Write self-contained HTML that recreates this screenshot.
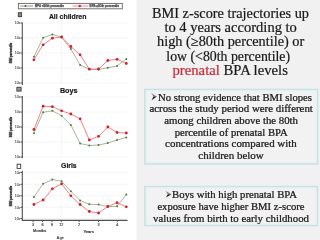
<!DOCTYPE html>
<html><head><meta charset="utf-8">
<style>
html,body{margin:0;padding:0;width:320px;height:240px;overflow:hidden;background:#fff;}
svg{display:block;will-change:transform;font-family:"Liberation Sans",sans-serif;}
.serif text{font-family:"Liberation Serif",serif;}
</style></head><body>
<svg width="320" height="240" viewBox="0 0 320 240">
<rect width="320" height="240" fill="#fff"/>
<g font-family="Liberation Sans, sans-serif">
<rect x="18.4" y="3.4" width="103.9" height="5.4" fill="#fff" stroke="#666" stroke-width="0.9"/>
<line x1="20" y1="6" x2="33" y2="6" stroke="#7a8872" stroke-width="0.9"/><circle cx="25.5" cy="6" r="0.9" fill="#4a5a44"/>
<text x="35" y="7.2" font-size="3.5" textLength="29" lengthAdjust="spacingAndGlyphs" fill="#3a3a3a" stroke="#3a3a3a" stroke-width="0.25">BPA &lt;80th percentile</text>
<line x1="72.5" y1="6" x2="88.5" y2="6" stroke="#f27a7a" stroke-width="0.9"/><circle cx="79.8" cy="6" r="1.2" fill="#c82232"/>
<text x="89.5" y="7.2" font-size="3.5" textLength="29.5" lengthAdjust="spacingAndGlyphs" fill="#3a3a3a" stroke="#3a3a3a" stroke-width="0.25">BPA ≥80th percentile</text>
<line x1="22.3" y1="23" x2="128" y2="23" stroke="#f5f5f5" stroke-width="1"/>
<line x1="22.3" y1="38" x2="128" y2="38" stroke="#f5f5f5" stroke-width="1"/>
<line x1="22.3" y1="53" x2="128" y2="53" stroke="#f5f5f5" stroke-width="1"/>
<line x1="22.3" y1="68" x2="128" y2="68" stroke="#f5f5f5" stroke-width="1"/>
<line x1="22.3" y1="83" x2="128" y2="83" stroke="#f5f5f5" stroke-width="1"/>
<line x1="61.3" y1="22.4" x2="61.3" y2="85" stroke="#f5f5f5" stroke-width="1"/>
<line x1="22.3" y1="22.4" x2="22.3" y2="85" stroke="#505050" stroke-width="1.1"/>
<line x1="20.3" y1="23" x2="22.3" y2="23" stroke="#444" stroke-width="0.9"/>
<text x="20.0" y="24.3" font-size="3.6" text-anchor="end" fill="#555" stroke="#555" stroke-width="0.12">10²</text>
<line x1="20.3" y1="38" x2="22.3" y2="38" stroke="#444" stroke-width="0.9"/>
<text x="20.0" y="39.3" font-size="3.6" text-anchor="end" fill="#555" stroke="#555" stroke-width="0.12">10²</text>
<line x1="20.3" y1="53" x2="22.3" y2="53" stroke="#444" stroke-width="0.9"/>
<text x="20.0" y="54.3" font-size="3.6" text-anchor="end" fill="#555" stroke="#555" stroke-width="0.12">10²</text>
<line x1="20.3" y1="68" x2="22.3" y2="68" stroke="#444" stroke-width="0.9"/>
<text x="20.0" y="69.3" font-size="3.6" text-anchor="end" fill="#555" stroke="#555" stroke-width="0.12">10²</text>
<line x1="20.3" y1="83" x2="22.3" y2="83" stroke="#444" stroke-width="0.9"/>
<text x="20.0" y="84.3" font-size="3.6" text-anchor="end" fill="#555" stroke="#555" stroke-width="0.12">10²</text>
<text x="48.9" y="19.25" font-family="Liberation Sans" font-weight="bold" font-size="7.4" textLength="37.5" lengthAdjust="spacingAndGlyphs" fill="#1a1a1a" stroke="#1a1a1a" stroke-width="0.2">All children</text>
<rect x="18.3" y="12.7" width="3.3" height="4.0" fill="#8a8a8a" stroke="#3a3a3a" stroke-width="0.9"/>
<text transform="translate(12,53) rotate(-90)" font-size="3.7" font-weight="bold" fill="#333" stroke="#333" stroke-width="0.35" text-anchor="middle" textLength="20.5" lengthAdjust="spacingAndGlyphs">BMI percentile</text>
<polyline points="33.90,56.8 43.14,37.7 52.38,34.4 61.62,37.3 70.86,49.0 80.10,65.0 89.34,69.3 98.58,69.5 107.82,67.7 117.06,66.0 126.30,58.9" fill="none" stroke="#a3b494" stroke-width="0.95"/>
<polyline points="33.90,59.8 43.14,44.8 52.38,38.2 61.62,37.0 70.86,46.5 80.10,54.8 89.34,69.2 98.58,69.0 107.82,60.5 117.06,59.3 126.30,63.5" fill="none" stroke="#f27a7a" stroke-width="0.95"/>
<circle cx="33.90" cy="56.8" r="1.0" fill="#56744c"/>
<circle cx="43.14" cy="37.7" r="1.0" fill="#56744c"/>
<circle cx="52.38" cy="34.4" r="1.0" fill="#56744c"/>
<circle cx="61.62" cy="37.3" r="1.0" fill="#56744c"/>
<circle cx="70.86" cy="49.0" r="1.0" fill="#56744c"/>
<circle cx="80.10" cy="65.0" r="1.0" fill="#56744c"/>
<circle cx="89.34" cy="69.3" r="1.0" fill="#56744c"/>
<circle cx="98.58" cy="69.5" r="1.0" fill="#56744c"/>
<circle cx="107.82" cy="67.7" r="1.0" fill="#56744c"/>
<circle cx="117.06" cy="66.0" r="1.0" fill="#56744c"/>
<circle cx="126.30" cy="58.9" r="1.0" fill="#56744c"/>
<circle cx="33.90" cy="59.8" r="1.4" fill="#c82232"/>
<circle cx="43.14" cy="44.8" r="1.4" fill="#c82232"/>
<circle cx="52.38" cy="38.2" r="1.4" fill="#c82232"/>
<circle cx="61.62" cy="37.0" r="1.4" fill="#c82232"/>
<circle cx="70.86" cy="46.5" r="1.4" fill="#c82232"/>
<circle cx="80.10" cy="54.8" r="1.4" fill="#c82232"/>
<circle cx="89.34" cy="69.2" r="1.4" fill="#c82232"/>
<circle cx="98.58" cy="69.0" r="1.4" fill="#c82232"/>
<circle cx="107.82" cy="60.5" r="1.4" fill="#c82232"/>
<circle cx="117.06" cy="59.3" r="1.4" fill="#c82232"/>
<circle cx="126.30" cy="63.5" r="1.4" fill="#c82232"/>
<line x1="22.3" y1="97" x2="128" y2="97" stroke="#f5f5f5" stroke-width="1"/>
<line x1="22.3" y1="112" x2="128" y2="112" stroke="#f5f5f5" stroke-width="1"/>
<line x1="22.3" y1="127" x2="128" y2="127" stroke="#f5f5f5" stroke-width="1"/>
<line x1="22.3" y1="142" x2="128" y2="142" stroke="#f5f5f5" stroke-width="1"/>
<line x1="22.3" y1="157" x2="128" y2="157" stroke="#f5f5f5" stroke-width="1"/>
<line x1="61.3" y1="96" x2="61.3" y2="158.3" stroke="#f5f5f5" stroke-width="1"/>
<line x1="22.3" y1="96" x2="22.3" y2="158.3" stroke="#505050" stroke-width="1.1"/>
<line x1="20.3" y1="97" x2="22.3" y2="97" stroke="#444" stroke-width="0.9"/>
<text x="20.0" y="98.3" font-size="3.6" text-anchor="end" fill="#555" stroke="#555" stroke-width="0.12">10²</text>
<line x1="20.3" y1="112" x2="22.3" y2="112" stroke="#444" stroke-width="0.9"/>
<text x="20.0" y="113.3" font-size="3.6" text-anchor="end" fill="#555" stroke="#555" stroke-width="0.12">10²</text>
<line x1="20.3" y1="127" x2="22.3" y2="127" stroke="#444" stroke-width="0.9"/>
<text x="20.0" y="128.3" font-size="3.6" text-anchor="end" fill="#555" stroke="#555" stroke-width="0.12">10²</text>
<line x1="20.3" y1="142" x2="22.3" y2="142" stroke="#444" stroke-width="0.9"/>
<text x="20.0" y="143.3" font-size="3.6" text-anchor="end" fill="#555" stroke="#555" stroke-width="0.12">10²</text>
<line x1="20.3" y1="157" x2="22.3" y2="157" stroke="#444" stroke-width="0.9"/>
<text x="20.0" y="158.3" font-size="3.6" text-anchor="end" fill="#555" stroke="#555" stroke-width="0.12">10²</text>
<text x="59.9" y="93.06" font-family="Liberation Sans" font-weight="bold" font-size="6.9" textLength="17.6" lengthAdjust="spacingAndGlyphs" fill="#1a1a1a" stroke="#1a1a1a" stroke-width="0.2">Boys</text>
<rect x="16.9" y="87.3" width="4.2" height="3.8" fill="#9a9a9a" stroke="#3a3a3a" stroke-width="0.9"/>
<text transform="translate(12,127) rotate(-90)" font-size="3.7" font-weight="bold" fill="#333" stroke="#333" stroke-width="0.35" text-anchor="middle" textLength="20.5" lengthAdjust="spacingAndGlyphs">BMI percentile</text>
<polyline points="33.90,133.2 43.14,112.3 52.38,110.8 61.62,115.8 70.86,125.0 80.10,143.5 89.34,145.5 98.58,145.0 107.82,143.0 117.06,140.0 126.30,137.5" fill="none" stroke="#a3b494" stroke-width="0.95"/>
<polyline points="33.90,129.5 43.14,106.2 52.38,106.7 61.62,110.8 70.86,114.0 80.10,118.8 89.34,140.0 98.58,136.3 107.82,127.0 117.06,132.5 126.30,133.0" fill="none" stroke="#f27a7a" stroke-width="0.95"/>
<circle cx="33.90" cy="133.2" r="1.0" fill="#56744c"/>
<circle cx="43.14" cy="112.3" r="1.0" fill="#56744c"/>
<circle cx="52.38" cy="110.8" r="1.0" fill="#56744c"/>
<circle cx="61.62" cy="115.8" r="1.0" fill="#56744c"/>
<circle cx="70.86" cy="125.0" r="1.0" fill="#56744c"/>
<circle cx="80.10" cy="143.5" r="1.0" fill="#56744c"/>
<circle cx="89.34" cy="145.5" r="1.0" fill="#56744c"/>
<circle cx="98.58" cy="145.0" r="1.0" fill="#56744c"/>
<circle cx="107.82" cy="143.0" r="1.0" fill="#56744c"/>
<circle cx="117.06" cy="140.0" r="1.0" fill="#56744c"/>
<circle cx="126.30" cy="137.5" r="1.0" fill="#56744c"/>
<circle cx="33.90" cy="129.5" r="1.4" fill="#c82232"/>
<circle cx="43.14" cy="106.2" r="1.4" fill="#c82232"/>
<circle cx="52.38" cy="106.7" r="1.4" fill="#c82232"/>
<circle cx="61.62" cy="110.8" r="1.4" fill="#c82232"/>
<circle cx="70.86" cy="114.0" r="1.4" fill="#c82232"/>
<circle cx="80.10" cy="118.8" r="1.4" fill="#c82232"/>
<circle cx="89.34" cy="140.0" r="1.4" fill="#c82232"/>
<circle cx="98.58" cy="136.3" r="1.4" fill="#c82232"/>
<circle cx="107.82" cy="127.0" r="1.4" fill="#c82232"/>
<circle cx="117.06" cy="132.5" r="1.4" fill="#c82232"/>
<circle cx="126.30" cy="133.0" r="1.4" fill="#c82232"/>
<line x1="22.3" y1="172.4" x2="128" y2="172.4" stroke="#f5f5f5" stroke-width="1"/>
<line x1="22.3" y1="184.3" x2="128" y2="184.3" stroke="#f5f5f5" stroke-width="1"/>
<line x1="22.3" y1="195.8" x2="128" y2="195.8" stroke="#f5f5f5" stroke-width="1"/>
<line x1="22.3" y1="207.3" x2="128" y2="207.3" stroke="#f5f5f5" stroke-width="1"/>
<line x1="22.3" y1="218.5" x2="128" y2="218.5" stroke="#f5f5f5" stroke-width="1"/>
<line x1="61.3" y1="170.8" x2="61.3" y2="220" stroke="#f5f5f5" stroke-width="1"/>
<line x1="22.3" y1="170.8" x2="22.3" y2="220" stroke="#505050" stroke-width="1.1"/>
<line x1="20.3" y1="172.4" x2="22.3" y2="172.4" stroke="#444" stroke-width="0.9"/>
<text x="20.0" y="173.70000000000002" font-size="3.6" text-anchor="end" fill="#555" stroke="#555" stroke-width="0.12">10²</text>
<line x1="20.3" y1="184.3" x2="22.3" y2="184.3" stroke="#444" stroke-width="0.9"/>
<text x="20.0" y="185.60000000000002" font-size="3.6" text-anchor="end" fill="#555" stroke="#555" stroke-width="0.12">10²</text>
<line x1="20.3" y1="195.8" x2="22.3" y2="195.8" stroke="#444" stroke-width="0.9"/>
<text x="20.0" y="197.10000000000002" font-size="3.6" text-anchor="end" fill="#555" stroke="#555" stroke-width="0.12">10²</text>
<line x1="20.3" y1="207.3" x2="22.3" y2="207.3" stroke="#444" stroke-width="0.9"/>
<text x="20.0" y="208.60000000000002" font-size="3.6" text-anchor="end" fill="#555" stroke="#555" stroke-width="0.12">10²</text>
<line x1="20.3" y1="218.5" x2="22.3" y2="218.5" stroke="#444" stroke-width="0.9"/>
<text x="20.0" y="219.8" font-size="3.6" text-anchor="end" fill="#555" stroke="#555" stroke-width="0.12">10²</text>
<text x="61.1" y="168.3" font-family="Liberation Sans" font-weight="bold" font-size="7.0" textLength="15.5" lengthAdjust="spacingAndGlyphs" fill="#1a1a1a" stroke="#1a1a1a" stroke-width="0.2">Girls</text>
<rect x="17.1" y="164.2" width="3.6" height="4.2" fill="#ffffff" stroke="#3a3a3a" stroke-width="0.9"/>
<text transform="translate(12,196) rotate(-90)" font-size="3.7" font-weight="bold" fill="#333" stroke="#333" stroke-width="0.35" text-anchor="middle" textLength="20.5" lengthAdjust="spacingAndGlyphs">BMI percentile</text>
<polyline points="33.90,197.0 43.14,183.8 52.38,179.5 61.62,181.3 70.86,191.3 80.10,200.5 89.34,204.3 98.58,204.6 107.82,206.6 117.06,206.3 126.30,194.5" fill="none" stroke="#a3b494" stroke-width="0.95"/>
<polyline points="33.90,204.5 43.14,200.0 52.38,188.8 61.62,183.8 70.86,195.8 80.10,204.5 89.34,211.5 98.58,213.0 107.82,206.5 117.06,202.7 126.30,206.8" fill="none" stroke="#f27a7a" stroke-width="0.95"/>
<circle cx="33.90" cy="197.0" r="1.0" fill="#56744c"/>
<circle cx="43.14" cy="183.8" r="1.0" fill="#56744c"/>
<circle cx="52.38" cy="179.5" r="1.0" fill="#56744c"/>
<circle cx="61.62" cy="181.3" r="1.0" fill="#56744c"/>
<circle cx="70.86" cy="191.3" r="1.0" fill="#56744c"/>
<circle cx="80.10" cy="200.5" r="1.0" fill="#56744c"/>
<circle cx="89.34" cy="204.3" r="1.0" fill="#56744c"/>
<circle cx="98.58" cy="204.6" r="1.0" fill="#56744c"/>
<circle cx="107.82" cy="206.6" r="1.0" fill="#56744c"/>
<circle cx="117.06" cy="206.3" r="1.0" fill="#56744c"/>
<circle cx="126.30" cy="194.5" r="1.0" fill="#56744c"/>
<circle cx="33.90" cy="204.5" r="1.4" fill="#c82232"/>
<circle cx="43.14" cy="200.0" r="1.4" fill="#c82232"/>
<circle cx="52.38" cy="188.8" r="1.4" fill="#c82232"/>
<circle cx="61.62" cy="183.8" r="1.4" fill="#c82232"/>
<circle cx="70.86" cy="195.8" r="1.4" fill="#c82232"/>
<circle cx="80.10" cy="204.5" r="1.4" fill="#c82232"/>
<circle cx="89.34" cy="211.5" r="1.4" fill="#c82232"/>
<circle cx="98.58" cy="213.0" r="1.4" fill="#c82232"/>
<circle cx="107.82" cy="206.5" r="1.4" fill="#c82232"/>
<circle cx="117.06" cy="202.7" r="1.4" fill="#c82232"/>
<circle cx="126.30" cy="206.8" r="1.4" fill="#c82232"/>
<line x1="21.7" y1="220.4" x2="127.5" y2="220.4" stroke="#505050" stroke-width="1.1"/>
<line x1="33.1" y1="220.4" x2="33.1" y2="222.2" stroke="#444" stroke-width="0.8"/>
<text x="33.1" y="226.3" font-size="3.8" text-anchor="middle" fill="#3a3a3a" stroke="#3a3a3a" stroke-width="0.15">3</text>
<line x1="42.5" y1="220.4" x2="42.5" y2="222.2" stroke="#444" stroke-width="0.8"/>
<text x="42.5" y="226.3" font-size="3.8" text-anchor="middle" fill="#3a3a3a" stroke="#3a3a3a" stroke-width="0.15">6</text>
<line x1="51.9" y1="220.4" x2="51.9" y2="222.2" stroke="#444" stroke-width="0.8"/>
<text x="51.9" y="226.3" font-size="3.8" text-anchor="middle" fill="#3a3a3a" stroke="#3a3a3a" stroke-width="0.15">9</text>
<line x1="61.3" y1="220.4" x2="61.3" y2="222.2" stroke="#444" stroke-width="0.8"/>
<text x="61.3" y="226.3" font-size="3.8" text-anchor="middle" fill="#3a3a3a" stroke="#3a3a3a" stroke-width="0.15">12</text>
<line x1="79.1" y1="220.4" x2="79.1" y2="222.2" stroke="#444" stroke-width="0.8"/>
<text x="79.1" y="226.3" font-size="3.8" text-anchor="middle" fill="#3a3a3a" stroke="#3a3a3a" stroke-width="0.15">2</text>
<line x1="98.5" y1="220.4" x2="98.5" y2="222.2" stroke="#444" stroke-width="0.8"/>
<text x="98.5" y="226.3" font-size="3.8" text-anchor="middle" fill="#3a3a3a" stroke="#3a3a3a" stroke-width="0.15">3</text>
<line x1="117.2" y1="220.4" x2="117.2" y2="222.2" stroke="#444" stroke-width="0.8"/>
<text x="117.2" y="226.3" font-size="3.8" text-anchor="middle" fill="#3a3a3a" stroke="#3a3a3a" stroke-width="0.15">4</text>
<text x="33" y="232" font-size="3.8" textLength="13.3" lengthAdjust="spacingAndGlyphs" fill="#3a3a3a" stroke="#3a3a3a" stroke-width="0.2">Months</text>
<text x="83.4" y="233" font-size="3.8" textLength="10.4" lengthAdjust="spacingAndGlyphs" fill="#3a3a3a" stroke="#3a3a3a" stroke-width="0.2">Years</text>
<text x="56.6" y="238.5" font-size="3.8" font-weight="bold" textLength="7.4" lengthAdjust="spacingAndGlyphs" fill="#333">Age</text>
</g>
<g class="serif" font-family="Liberation Serif, serif">
<defs><linearGradient id="gshade" x1="0" x2="1" y1="0" y2="0"><stop offset="0" stop-color="#fff"/><stop offset="1" stop-color="#f1f1f1"/></linearGradient></defs>
<rect x="135.6" y="0" width="2" height="240" fill="url(#gshade)"/>
<rect x="137.6" y="0" width="183" height="240" fill="#f1f1f1"/>
<text x="152.00" y="17.6" font-size="13.6" textLength="157.00" lengthAdjust="spacingAndGlyphs" fill="#1a1a1a" stroke="#1a1a1a" stroke-width="0.2">BMI z-score trajectories up</text>
<text x="164.40" y="32.4" font-size="13.6" textLength="132.50" lengthAdjust="spacingAndGlyphs" fill="#1a1a1a" stroke="#1a1a1a" stroke-width="0.2">to 4 years according to</text>
<text x="157.00" y="46.2" font-size="13.6" textLength="147.30" lengthAdjust="spacingAndGlyphs" fill="#1a1a1a" stroke="#1a1a1a" stroke-width="0.2">high (≥80th percentile) or</text>
<text x="166.30" y="60.6" font-size="13.6" textLength="123.80" lengthAdjust="spacingAndGlyphs" fill="#1a1a1a" stroke="#1a1a1a" stroke-width="0.2">low (&lt;80th percentile)</text>
<text x="172.50" y="75.0" font-size="13.6" textLength="115.40" lengthAdjust="spacingAndGlyphs" fill="#1a1a1a" stroke="#1a1a1a" stroke-width="0.2"><tspan fill="#c82a36" stroke="#c82a36">prenatal</tspan> BPA levels</text>
<rect x="144.9" y="89.5" width="172.70" height="74.50" fill="#f3f2f2" stroke="#cbe1e3" stroke-width="1.6"/><rect x="146.4" y="91.0" width="169.70" height="71.50" fill="none" stroke="#e3f3f2" stroke-width="1.2"/>
<polygon points="151.2,93.0 156.9,96.6 153.36599999999999,96.6" fill="#8a8a8a"/><polygon points="153.36599999999999,96.6 156.9,96.6 151.6,100.2" fill="#1e1e1e"/>
<text x="158.00" y="100.8" font-size="9.7" textLength="154.00" lengthAdjust="spacingAndGlyphs" fill="#1a1a1a" stroke="#1a1a1a" stroke-width="0.24">No strong evidence that BMI slopes</text>
<text x="149.40" y="112.0" font-size="9.7" textLength="163.50" lengthAdjust="spacingAndGlyphs" fill="#1a1a1a" stroke="#1a1a1a" stroke-width="0.24">across the study period were different</text>
<text x="164.30" y="123.6" font-size="9.7" textLength="133.70" lengthAdjust="spacingAndGlyphs" fill="#1a1a1a" stroke="#1a1a1a" stroke-width="0.24">among children above the 80th</text>
<text x="174.70" y="135.6" font-size="9.7" textLength="113.00" lengthAdjust="spacingAndGlyphs" fill="#1a1a1a" stroke="#1a1a1a" stroke-width="0.24">percentile of prenatal BPA</text>
<text x="165.10" y="147.3" font-size="9.7" textLength="131.70" lengthAdjust="spacingAndGlyphs" fill="#1a1a1a" stroke="#1a1a1a" stroke-width="0.24">concentrations compared with</text>
<text x="198.30" y="159.0" font-size="9.7" textLength="65.40" lengthAdjust="spacingAndGlyphs" fill="#1a1a1a" stroke="#1a1a1a" stroke-width="0.24">children below</text>
<rect x="144.9" y="186.6" width="172.50" height="38.90" fill="#f3f2f2" stroke="#cbe1e3" stroke-width="1.6"/><rect x="146.4" y="188.1" width="169.50" height="35.90" fill="none" stroke="#e3f3f2" stroke-width="1.2"/>
<polygon points="165.5,190.9 171.5,194.15 167.78,194.15" fill="#8a8a8a"/><polygon points="167.78,194.15 171.5,194.15 165.9,197.4" fill="#1e1e1e"/>
<text x="172.00" y="197.8" font-size="9.7" textLength="125.00" lengthAdjust="spacingAndGlyphs" fill="#1a1a1a" stroke="#1a1a1a" stroke-width="0.24">Boys with high prenatal BPA</text>
<text x="157.40" y="209.9" font-size="9.7" textLength="147.10" lengthAdjust="spacingAndGlyphs" fill="#1a1a1a" stroke="#1a1a1a" stroke-width="0.24">exposure have higher BMI z-score</text>
<text x="153.10" y="221.6" font-size="9.7" textLength="155.90" lengthAdjust="spacingAndGlyphs" fill="#1a1a1a" stroke="#1a1a1a" stroke-width="0.24">values from birth to early childhood</text>
</g>
</svg>
</body></html>
